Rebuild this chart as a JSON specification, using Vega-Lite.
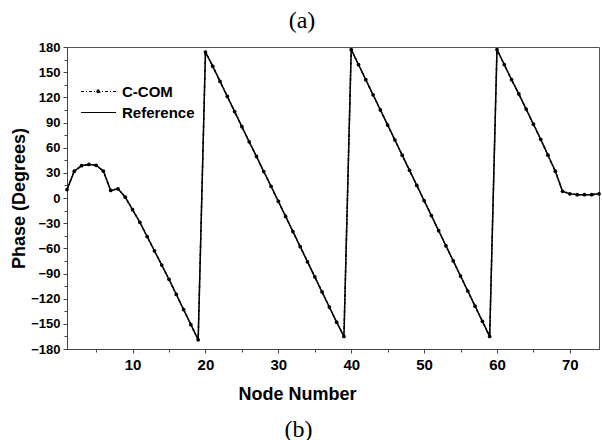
{
  "$schema": "https://vega.github.io/schema/vega-lite/v6.json",
  "width": 532,
  "height": 302,
  "autosize": "none",
  "padding": {"left": 67, "top": 47, "right": 3, "bottom": 91},
  "background": "white",
  "config": {"view": {"stroke": "#555", "strokeWidth": 1}, "font": "Liberation Sans"},
  "title": {"text": "(a)", "font": "Liberation Serif", "fontSize": 24, "fontWeight": "normal", "color": "black", "anchor": "middle", "frame": "group", "dx": -31, "offset": 8},
  "data": {"values": [
    {"node": 1, "C-COM": 10, "Reference": 10},
    {"node": 2, "C-COM": 32, "Reference": 32},
    {"node": 3, "C-COM": 38.5, "Reference": 38.5},
    {"node": 4, "C-COM": 40, "Reference": 40},
    {"node": 5, "C-COM": 39, "Reference": 39},
    {"node": 6, "C-COM": 32, "Reference": 32},
    {"node": 7, "C-COM": 9, "Reference": 9},
    {"node": 8, "C-COM": 11, "Reference": 11},
    {"node": 9, "C-COM": 1, "Reference": 1},
    {"node": 10, "C-COM": -14, "Reference": -14},
    {"node": 11, "C-COM": -29, "Reference": -29},
    {"node": 12, "C-COM": -46, "Reference": -46},
    {"node": 13, "C-COM": -63, "Reference": -63},
    {"node": 14, "C-COM": -80, "Reference": -80},
    {"node": 15, "C-COM": -97, "Reference": -97},
    {"node": 16, "C-COM": -115, "Reference": -115},
    {"node": 17, "C-COM": -133, "Reference": -133},
    {"node": 18, "C-COM": -151, "Reference": -151},
    {"node": 19, "C-COM": -169, "Reference": -169},
    {"node": 20, "C-COM": 174, "Reference": 174},
    {"node": 21, "C-COM": 157, "Reference": 157},
    {"node": 22, "C-COM": 139, "Reference": 139},
    {"node": 23, "C-COM": 121, "Reference": 121},
    {"node": 24, "C-COM": 103, "Reference": 103},
    {"node": 25, "C-COM": 85, "Reference": 85},
    {"node": 26, "C-COM": 67, "Reference": 67},
    {"node": 27, "C-COM": 49.5, "Reference": 49.5},
    {"node": 28, "C-COM": 31.5, "Reference": 31.5},
    {"node": 29, "C-COM": 14, "Reference": 14},
    {"node": 30, "C-COM": -4, "Reference": -4},
    {"node": 31, "C-COM": -22, "Reference": -22},
    {"node": 32, "C-COM": -40, "Reference": -40},
    {"node": 33, "C-COM": -58, "Reference": -58},
    {"node": 34, "C-COM": -76, "Reference": -76},
    {"node": 35, "C-COM": -94, "Reference": -94},
    {"node": 36, "C-COM": -112, "Reference": -112},
    {"node": 37, "C-COM": -130, "Reference": -130},
    {"node": 38, "C-COM": -148, "Reference": -148},
    {"node": 39, "C-COM": -165, "Reference": -165},
    {"node": 40, "C-COM": 177, "Reference": 177},
    {"node": 41, "C-COM": 159, "Reference": 159},
    {"node": 42, "C-COM": 141, "Reference": 141},
    {"node": 43, "C-COM": 123, "Reference": 123},
    {"node": 44, "C-COM": 105, "Reference": 105},
    {"node": 45, "C-COM": 87, "Reference": 87},
    {"node": 46, "C-COM": 69, "Reference": 69},
    {"node": 47, "C-COM": 51, "Reference": 51},
    {"node": 48, "C-COM": 33, "Reference": 33},
    {"node": 49, "C-COM": 15, "Reference": 15},
    {"node": 50, "C-COM": -3, "Reference": -3},
    {"node": 51, "C-COM": -21, "Reference": -21},
    {"node": 52, "C-COM": -39, "Reference": -39},
    {"node": 53, "C-COM": -57, "Reference": -57},
    {"node": 54, "C-COM": -75, "Reference": -75},
    {"node": 55, "C-COM": -93, "Reference": -93},
    {"node": 56, "C-COM": -111, "Reference": -111},
    {"node": 57, "C-COM": -129, "Reference": -129},
    {"node": 58, "C-COM": -147, "Reference": -147},
    {"node": 59, "C-COM": -165, "Reference": -165},
    {"node": 60, "C-COM": 177, "Reference": 177},
    {"node": 61, "C-COM": 159, "Reference": 159},
    {"node": 62, "C-COM": 141, "Reference": 141},
    {"node": 63, "C-COM": 124, "Reference": 124},
    {"node": 64, "C-COM": 106, "Reference": 106},
    {"node": 65, "C-COM": 88, "Reference": 88},
    {"node": 66, "C-COM": 70, "Reference": 70},
    {"node": 67, "C-COM": 51, "Reference": 51},
    {"node": 68, "C-COM": 32, "Reference": 32},
    {"node": 69, "C-COM": 8, "Reference": 8},
    {"node": 70, "C-COM": 5, "Reference": 5},
    {"node": 71, "C-COM": 4, "Reference": 4},
    {"node": 72, "C-COM": 4, "Reference": 4},
    {"node": 73, "C-COM": 4, "Reference": 4},
    {"node": 74, "C-COM": 5, "Reference": 5}
  ]},
  "transform": [{"fold": ["C-COM", "Reference"], "as": ["series", "phase"]}],
  "layer": [
    {
      "mark": {"type": "line", "strokeWidth": 1.5, "color": "black"},
      "encoding": {
        "x": {"field": "node", "type": "quantitative", "scale": {"domain": [1, 74], "nice": false, "zero": false},
          "axis": {"values": [10, 20, 30, 40, 50, 60, 70], "grid": false, "domainColor": "#444", "tickColor": "#444", "tickSize": 4, "labelFont": "Liberation Sans", "labelFontSize": 15, "labelFontWeight": "bold", "labelColor": "black", "labelPadding": 4, "title": "Node Number", "titleFont": "Liberation Sans", "titleFontSize": 18, "titleFontWeight": "bold", "titleColor": "black", "titleX": 230, "titleY": 45, "titleBaseline": "middle"}},
        "y": {"field": "phase", "type": "quantitative", "scale": {"domain": [-180, 180], "nice": false, "zero": false},
          "axis": {"values": [-180, -150, -120, -90, -60, -30, 0, 30, 60, 90, 120, 150, 180], "grid": false, "domainColor": "#444", "tickColor": "#444", "tickSize": 4, "labelFont": "Liberation Sans", "labelFontSize": 13, "labelFontWeight": "bold", "labelColor": "black", "labelPadding": 3, "title": "Phase (Degrees)", "titleFont": "Liberation Sans", "titleFontSize": 18, "titleFontWeight": "bold", "titleColor": "black", "titlePadding": 2}},
        "strokeDash": {"field": "series", "type": "nominal", "scale": {"domain": ["C-COM", "Reference"], "range": [[3, 2, 1, 2], [1, 0]]},
          "legend": {"orient": "none", "legendX": 13, "legendY": 34, "title": null, "symbolType": "stroke", "symbolSize": 1225, "symbolStrokeColor": "black", "symbolStrokeWidth": 1.2, "labelFont": "Liberation Sans", "labelFontSize": 15, "labelFontWeight": "bold", "labelColor": "black", "labelOffset": 5, "clipHeight": 21, "rowPadding": 0,
            "encode": {"symbols": {"update": {"shape": {"signal": "datum.value === 'C-COM' ? 'M-1,0H1M-0.09,0A0.09,0.09 0 1,1 0.09,0A0.09,0.09 0 1,1 -0.09,0Z' : 'stroke'"}, "fill": {"value": "black"}, "stroke": {"value": "black"}, "strokeWidth": {"value": 1.2}, "size": {"value": 1225}, "opacity": {"value": 1}}}}}}
      }
    },
    {
      "transform": [{"filter": "datum.series == 'C-COM'"}],
      "mark": {"type": "point", "filled": true, "size": 14, "color": "black", "opacity": 1},
      "encoding": {
        "x": {"field": "node", "type": "quantitative",
          "axis": {"orient": "bottom", "values": [5, 15, 25, 35, 45, 55, 65], "labels": false, "domain": false, "grid": false, "tickColor": "#444", "tickSize": 3, "title": "(b)", "titleFont": "Liberation Serif", "titleFontSize": 24, "titleFontWeight": "normal", "titleColor": "black", "titleX": 231, "titleY": 80, "titleBaseline": "middle"}},
        "y": {"field": "phase", "type": "quantitative",
          "axis": {"orient": "left", "values": [-165, -135, -105, -75, -45, -15, 15, 45, 75, 105, 135, 165], "labels": false, "domain": false, "grid": false, "tickColor": "#444", "tickSize": 3, "title": null}}
      }
    }
  ],
  "resolve": {"axis": {"x": "independent", "y": "independent"}}
}
